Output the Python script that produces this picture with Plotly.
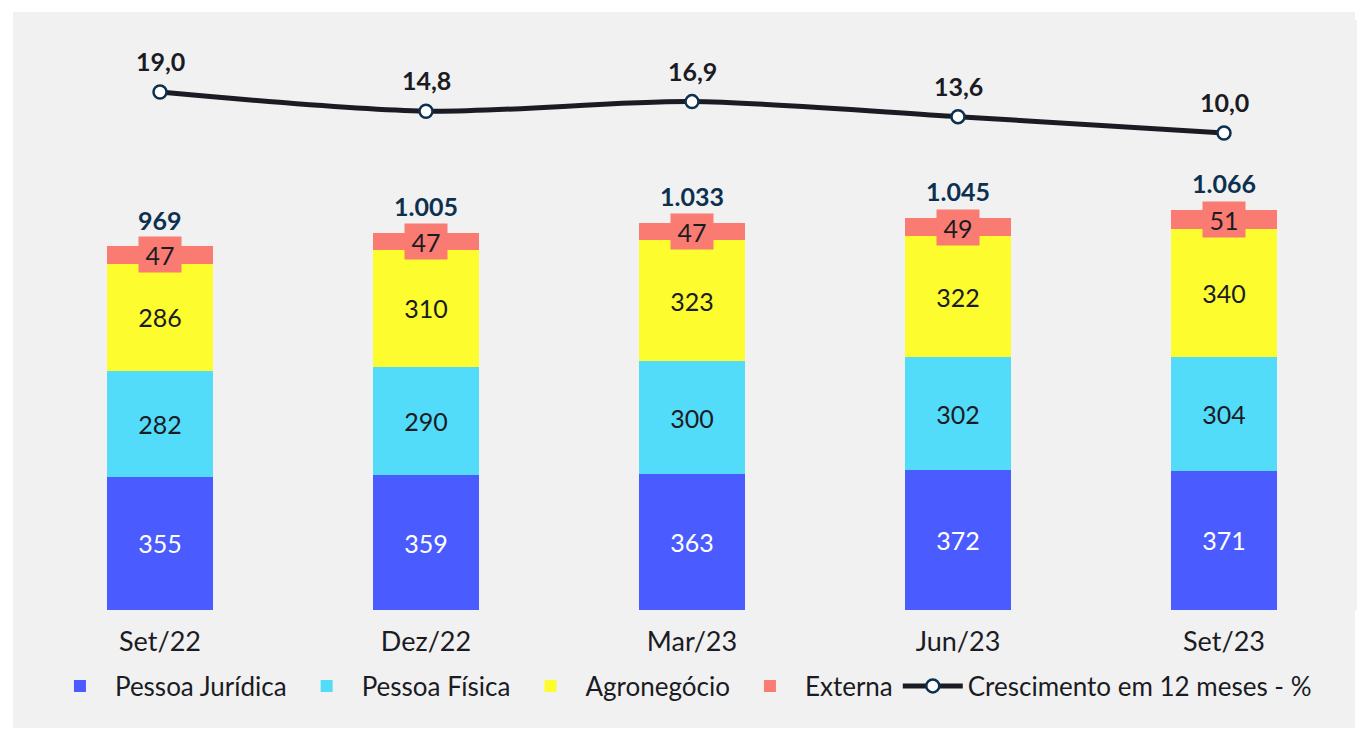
import plotly.graph_objects as go

categories = ["Set/22", "Dez/22", "Mar/23", "Jun/23", "Set/23"]
pessoa_juridica = [355, 359, 363, 372, 371]
pessoa_fisica = [282, 290, 300, 302, 304]
agronegocio = [286, 310, 323, 322, 340]
externa = [47, 47, 47, 49, 51]
totals = [969, 1005, 1033, 1045, 1066]
crescimento = [19.0, 14.8, 16.9, 13.6, 10.0]

FONT = "Lato"
DARK = "#1b1b24"
NAVY = "#0d3050"
C_PJ = "#4a5cff"
C_PF = "#53dcfa"
C_AG = "#fdfc2e"
C_EX = "#f97b72"
BG = "#f1f1f1"

fig = go.Figure()
BW = 0.395
LBL = 25

fig.add_trace(go.Bar(x=categories, y=pessoa_juridica, name="Pessoa Jurídica", marker=dict(color=C_PJ, line=dict(width=0)),
                     width=BW, text=pessoa_juridica, textposition="inside", insidetextanchor="middle", textangle=0,
                     insidetextfont=dict(family=FONT, size=LBL, color="white")))
fig.add_trace(go.Bar(x=categories, y=pessoa_fisica, name="Pessoa Física", marker=dict(color=C_PF, line=dict(width=0)),
                     width=BW, text=pessoa_fisica, textposition="inside", insidetextanchor="middle", textangle=0,
                     insidetextfont=dict(family=FONT, size=LBL, color=DARK)))
fig.add_trace(go.Bar(x=categories, y=agronegocio, name="Agronegócio", marker=dict(color=C_AG, line=dict(width=0)),
                     width=BW, text=agronegocio, textposition="inside", insidetextanchor="middle", textangle=0,
                     insidetextfont=dict(family=FONT, size=LBL, color=DARK)))
fig.add_trace(go.Bar(x=categories, y=externa, name="Externa", marker=dict(color=C_EX, line=dict(width=0)),
                     width=BW, textposition="none"))
fig.add_trace(go.Scatter(x=categories, y=crescimento, name="Crescimento em 12 meses - %", yaxis="y2",
                         mode="lines+markers", line=dict(color=DARK, width=5, shape="spline", smoothing=0.8),
                         marker=dict(symbol="circle", size=13, color="white", line=dict(color=NAVY, width=2.5))))

annotations = []
for i, c in enumerate(categories):
    base = pessoa_juridica[i] + pessoa_fisica[i] + agronegocio[i]
    annotations.append(dict(x=c, y=base + externa[i] / 2, xref="x", yref="y", text=str(externa[i]), showarrow=False,
                            font=dict(family=FONT, size=LBL, color=DARK), bgcolor=C_EX, borderpad=5, width=32, height=25))
    annotations.append(dict(x=c, y=totals[i], xref="x", yref="y", text="<b>" + f"{totals[i]:,}".replace(",", ".") + "</b>",
                            showarrow=False, yshift=27, font=dict(family=FONT, size=25, color=NAVY)))
    annotations.append(dict(x=c, y=crescimento[i], xref="x", yref="y2", text="<b>" + f"{crescimento[i]:.1f}".replace(".", ",") + "</b>",
                            showarrow=False, yshift=31, font=dict(family=FONT, size=25, color=DARK)))

fig.update_layout(
    width=1360, height=729,
    margin=dict(l=27, r=3, t=20, b=119),
    paper_bgcolor="white", plot_bgcolor=BG,
    barmode="stack", bargap=0.6,
    font=dict(family=FONT, size=20, color=DARK),
    xaxis=dict(range=[-0.5, 4.5], showgrid=False, zeroline=False, showline=False, ticks="",
               tickfont=dict(family=FONT, size=27, color=DARK), ticklabelstandoff=13),
    yaxis=dict(range=[0, 1573], visible=False, showgrid=False, zeroline=False),
    yaxis2=dict(range=[-94.6, 34.8], overlaying="y", visible=False, showgrid=False, zeroline=False),
    legend=dict(orientation="h", x=0.4917, xanchor="center", y=-0.1288, yanchor="middle",
                font=dict(family=FONT, size=26, color=DARK), traceorder="normal", bgcolor="rgba(0,0,0,0)",
                itemwidth=60),
    shapes=[dict(type="rect", xref="paper", yref="paper", x0=-0.0105, x1=0.9985, y0=-0.2, y1=1.01356,
                 fillcolor=BG, line=dict(width=0), layer="below")],
    annotations=annotations,
    showlegend=True,
)

fig.write_html("out.html")
